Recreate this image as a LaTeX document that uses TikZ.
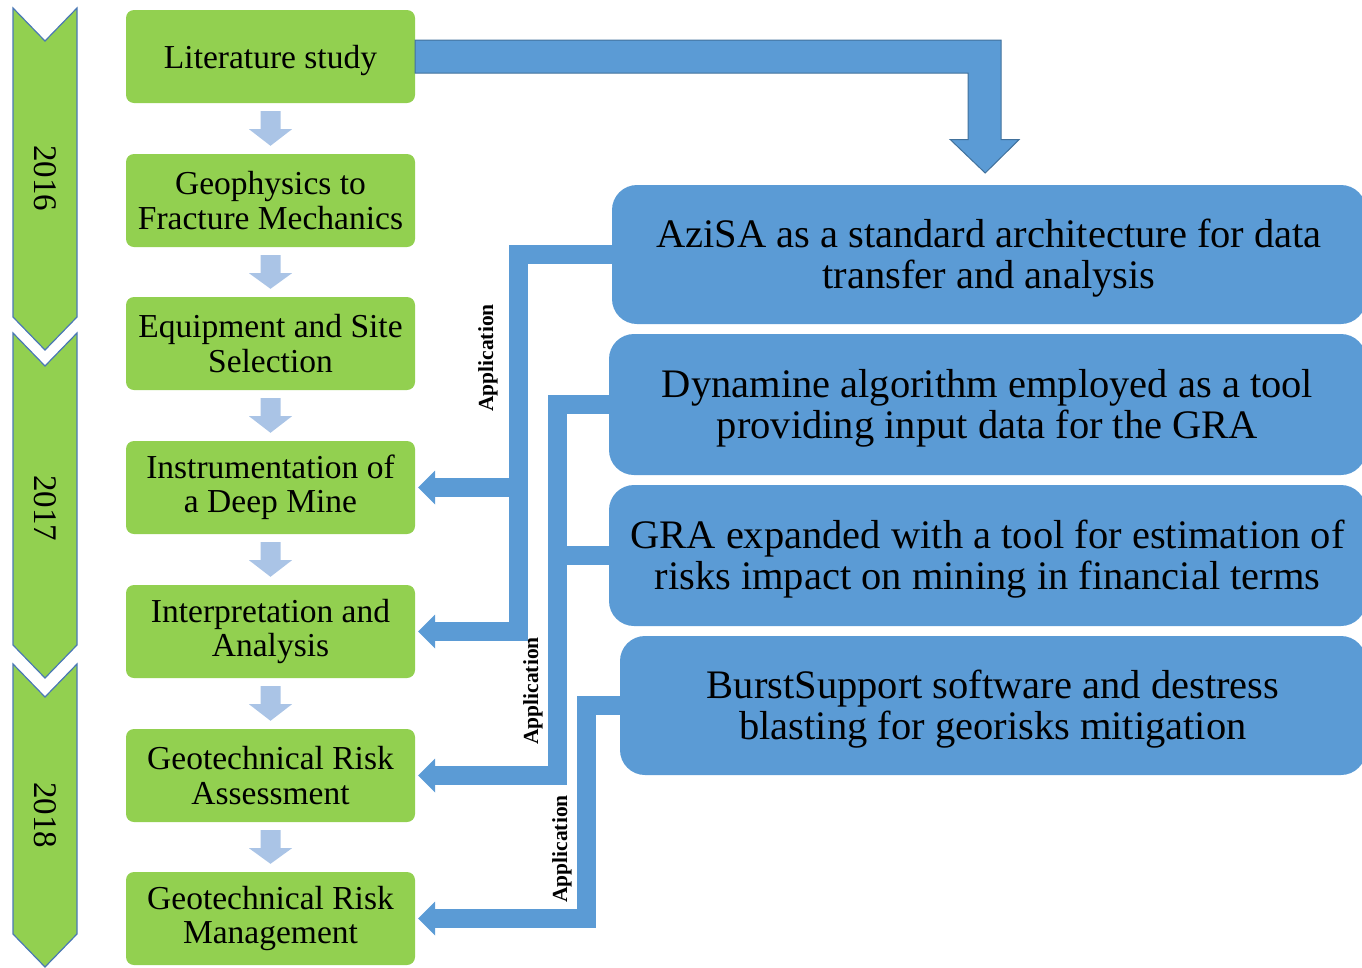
\documentclass[tikz,border=0pt]{standalone}
\usepackage{fontspec}
\setmainfont{Liberation Serif}
\usetikzlibrary{calc}

\definecolor{boxgreen}{HTML}{92D050}
\definecolor{boxblue}{HTML}{5B9BD5}
\definecolor{edgeblue}{HTML}{41719C}
\definecolor{paleblue}{HTML}{AAC4E6}
\definecolor{chevedge}{HTML}{4A78B5}

\tikzset{
  stage/.style={fill=boxgreen, rounded corners=8pt, minimum width=289pt,
    minimum height=93pt, inner sep=0pt, align=center,
    font=\fontsize{33.5}{34.5}\selectfont},
  oneline/.style={execute at begin node={\rule{0pt}{31pt}}},
  result/.style={fill=boxblue, rounded corners=25pt, inner sep=0pt,
    align=center, font=\fontsize{40.5}{41}\selectfont,
    execute at begin node={\rule{0pt}{76pt}}},
  yearlbl/.style={rotate=-90, inner sep=0pt, font=\fontsize{33}{33}\selectfont},
  applbl/.style={rotate=90, inner sep=0pt, font=\bfseries\fontsize{21.5}{21.5}\selectfont},
  bus/.style={draw=boxblue, line width=19pt},
  bushead/.style={fill=boxblue},
  flowarrow/.style={fill=paleblue},
  bigarrow/.style={fill=boxblue, draw=edgeblue, line width=1pt, line join=miter},
  chevron/.style={fill=boxgreen, draw=chevedge, line width=1.2pt},
}

% pale arrow between two consecutive stages
\newcommand\flowdown[2]{%
  \fill[flowarrow] ($(#1.south)+(-10,8)$) -- ++(20,0) -- ++(0,18) -- ++(11.5,0)
    -- ($(#2.north)+(0,-8)$) -- ($(#1.south)+(-21.5,26)$) -- ++(11.5,0) -- cycle;}
% left-pointing head that ends a bus branch at a stage
\newcommand\headleft[1]{%
  \fill[bushead] ($(#1.east)+(3,0)$) -- ++(17,-17) -- ++(0,34) -- cycle;}

\begin{document}
\begin{tikzpicture}[x=1pt, y=-1pt]
\useasboundingbox (0,0) rectangle (1362,967);
\clip (0,0) rectangle (1362,967);

% timeline chevrons
\draw[chevron] (13,8) -- (45,41) -- (77,8) -- (77,317) -- (45,350) -- (13,317) -- cycle;
\draw[chevron] (13,333) -- (45,366) -- (77,333) -- (77,645) -- (45,678) -- (13,645) -- cycle;
\draw[chevron] (13,664) -- (45,697) -- (77,664) -- (77,934) -- (45,967) -- (13,934) -- cycle;
\node[yearlbl] (y16) at (45,178) {2016};
\node[yearlbl] (y17) at (45,508) {2017};
\node[yearlbl] (y18) at (45,815) {2018};

% project stages
\node[stage, oneline] (lit) at (270.5,56.5) {Literature study};
\node[stage] (geo)    at (270.5,200.5) {Geophysics to\\Fracture Mechanics};
\node[stage] (equip)  at (270.5,343.5) {Equipment and Site\\Selection};
\node[stage] (inst)   at (270.5,487.5) {Instrumentation of\\a Deep Mine};
\node[stage] (interp) at (270.5,631.5) {Interpretation and\\Analysis};
\node[stage] (assess) at (270.5,775.5) {Geotechnical Risk\\Assessment};
\node[stage] (manage) at (270.5,918.5) {Geotechnical Risk\\Management};

\flowdown{lit}{geo}
\flowdown{geo}{equip}
\flowdown{equip}{inst}
\flowdown{inst}{interp}
\flowdown{interp}{assess}
\flowdown{assess}{manage}

% bus shafts
\coordinate (sA) at (518,0);
\coordinate (sB) at (557,0);
\coordinate (sC) at (586,0);

% outcomes
\node[result, minimum width=754pt, minimum height=139pt] (azi) at (989,254.5)
  {AziSA as a standard architecture for data\\transfer and analysis};
\node[result, minimum width=757pt, minimum height=141pt] (dyn) at (987.5,404.5)
  {Dynamine algorithm employed as a tool\\providing input data for the GRA};
\node[result, minimum width=757pt, minimum height=141pt] (gra) at (987.5,555.5)
  {GRA expanded with a tool for estimation of\\risks impact on mining in financial terms};
\node[result, minimum width=746pt, minimum height=139pt] (burst) at (993,705.5)
  {BurstSupport software and destress\\blasting for georisks mitigation};

% application buses back to the stages
\draw[bus] ($(azi.west)+(3,0)$) -| (sA |- interp.east) -- ($(interp.east)+(19,0)$);
\draw[bus] (sA |- inst.east) -- ($(inst.east)+(19,0)$);
\draw[bus] ($(dyn.west)+(3,0)$) -| (sB |- assess.east) -- ($(assess.east)+(19,0)$);
\draw[bus] ($(gra.west)+(3,0)$) -- (sB |- gra.west);
\draw[bus] ($(burst.west)+(3,0)$) -| (sC |- manage.east) -- ($(manage.east)+(19,0)$);
\headleft{inst}
\headleft{interp}
\headleft{assess}
\headleft{manage}

\node[applbl] (appA) at (488,358) {Application};
\node[applbl] (appB) at (533,691) {Application};
\node[applbl] (appC) at (562,849) {Application};

% literature feeding the data architecture
\draw[bigarrow] ($(lit.east)+(0,-16.5)$) -- ++(586,0) -- ++(0,99.5) -- ++(18,0)
  -- ++(-34,33.5) -- ++(-35,-33.5) -- ++(18,0) -- ++(0,-66.5) -- ++(-553,0) -- cycle;
\end{tikzpicture}
\end{document}
